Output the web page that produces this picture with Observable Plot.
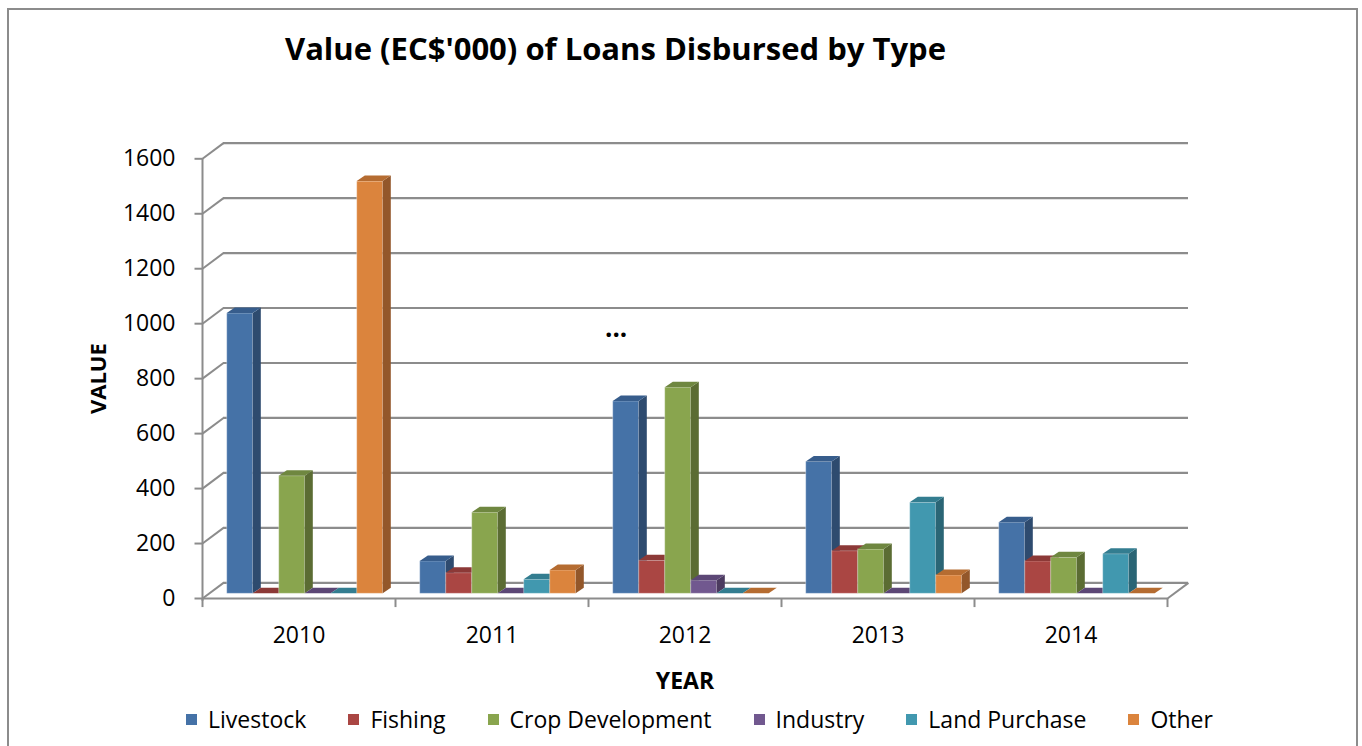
<!DOCTYPE html>
<html>
<head>
<meta charset="utf-8">
<script src="https://cdn.jsdelivr.net/npm/d3@7"></script>
<script src="https://cdn.jsdelivr.net/npm/@observablehq/plot@0.6"></script>
<style>
  body { margin: 0; background: #fff; font-family: "Open Sans", sans-serif; }
  #wrap { position: relative; width: 1362px; height: 746px; overflow: hidden; background: #fff; }
  #frame { position: absolute; left: 7px; top: 8px; width: 1351px; height: 800px; border: 2px solid #8c8c8c; box-sizing: border-box; }
  #title { position: absolute; left: 0; top: 27px; width: 1231px; text-align: center; font-weight: 700; font-size: 31px; line-height: 42px; color: #000; }
  #dots { position: absolute; left: 605px; top: 310px; font-weight: 700; font-size: 26px; line-height: 34px; color: #000; }
  #legend { position: absolute; left: 0; top: 700px; width: 1399px; display: flex; justify-content: center; gap: 42px; font-size: 23px; line-height: 38px; color: #000; }
  .item { display: flex; align-items: center; }
  .sw { width: 11px; height: 11px; margin-right: 11px; }
  #chart { position: absolute; left: 0; top: 0; }
</style>
</head>
<body>
<div id="wrap">
  <div id="frame"></div>
  <div id="chart"></div>
  <div id="title"></div>
  <div id="dots">...</div>
  <div id="legend"></div>
</div>
<script>
// ---- data ----
const titleText = "Value (EC$'000) of Loans Disbursed by Type";
const years = ["2010", "2011", "2012", "2013", "2014"];
const types = ["Livestock", "Fishing", "Crop Development", "Industry", "Land Purchase", "Other"];
const livestock    = [1020, 118, 700, 480, 259];
const fishing      = [0,    75,  120, 155, 118];
const cropDev      = [428,  295, 750, 161, 131];
const industry     = [0,    0,   48,  0,   0];
const landPurchase = [0,    51,  0,   331, 144];
const other        = [1500, 85,  0,   67,  0];
const yTicks = [0, 200, 400, 600, 800, 1000, 1200, 1400, 1600];
const xTitle = "YEAR";
const yTitle = "VALUE";

const series = [livestock, fishing, cropDev, industry, landPurchase, other];
const frontColors = ["#4572A7", "#AA4643", "#89A54E", "#71588F", "#4198AF", "#DB843D"];
const sideColors  = ["#2E4B6F", "#7A302E", "#5B6C33", "#4B3A5F", "#2A6575", "#93572A"];
const topColors   = ["#375D8C", "#8C3937", "#6F8740", "#5C4776", "#337D90", "#B56C31"];

// ---- 3D geometry (in data units) ----
const backDx = 0.1088, backDy = 57;     // back wall offset
const barOff = 0.128, barW = 0.1347;     // bar placement inside a year group
const baseDy = 17;                       // bar base plane
const depDx = 0.042, depDy = 20;         // bar depth
const tickLen = 8 / 193, catTick = -33;

document.getElementById("title").textContent = titleText;

const grid = "#8c8c8c";
const marks = [
  Plot.ruleY(yTicks, {y: d => d + backDy, x1: () => backDx, x2: () => 5 + backDx, stroke: grid, strokeWidth: 2.2}),
  Plot.link(yTicks, {x1: () => 0, y1: d => d, x2: () => backDx, y2: d => d + backDy, stroke: grid, strokeWidth: 2}),
  Plot.link(yTicks, {x1: () => -tickLen, y1: d => d, x2: () => 0, y2: d => d, stroke: grid, strokeWidth: 2}),
  Plot.ruleX([0], {x: d => d, y1: () => catTick * 0.3, y2: () => 1600, stroke: grid, strokeWidth: 2}),
  Plot.ruleY([0], {y: d => d, x1: () => 0, x2: () => years.length, stroke: grid, strokeWidth: 2.2}),
  Plot.link([0], {x1: () => years.length, y1: () => 0, x2: () => years.length + backDx, y2: () => backDy, stroke: grid, strokeWidth: 2}),
  Plot.ruleX(d3.range(years.length + 1), {x: d => d, y1: () => 0, y2: () => catTick, stroke: grid, strokeWidth: 2}),
  Plot.text(years, {x: (d, i) => i + 0.5, y: () => 0, dy: 37, text: d => d, fill: "#000"}),
  Plot.text([xTitle], {x: () => years.length / 2, y: () => 0, dy: 83, text: d => d, fontWeight: "bold", fontSize: 23, fill: "#000"}),
  Plot.text([yTitle], {x: () => 0, y: () => 800, dx: -104, rotate: -90, text: d => d, fontWeight: "bold", fontSize: 22, fill: "#000"})
];

types.forEach((type, t) => {
  const rows = years.map((yr, g) => {
    const v = series[t][g];
    const x1 = g + barOff + t * barW;
    return {id: yr + type, v, x1, x2: x1 + barW, b: baseDy, top: baseDy + v};
  });
  const sidePts = rows.flatMap(r => [
    {id: r.id, x: r.x2, y1: r.b, y2: r.top},
    {id: r.id, x: r.x2 + depDx, y1: r.b + depDy, y2: r.top + depDy}
  ]);
  const topPts = rows.flatMap(r => [
    {id: r.id, x: r.x1, y1: r.top, y2: r.top},
    {id: r.id, x: r.x1 + depDx, y1: r.top, y2: r.top + depDy},
    {id: r.id, x: r.x2, y1: r.top, y2: r.top + depDy},
    {id: r.id, x: r.x2 + depDx, y1: r.top + depDy, y2: r.top + depDy}
  ]);
  marks.push(
    Plot.rect(rows.filter(r => r.v > 0), {x1: "x1", x2: "x2", y1: "b", y2: "top", fill: frontColors[t], stroke: "#ffffff", strokeOpacity: 0.35, strokeWidth: 1}),
    Plot.areaY(sidePts.filter((p, i) => rows[Math.floor(i / 2)].v > 0), {x: "x", y1: "y1", y2: "y2", z: "id", fill: sideColors[t], curve: "linear"}),
    Plot.areaY(topPts, {x: "x", y1: "y1", y2: "y2", z: "id", fill: topColors[t], curve: "linear"})
  );
});

const chart = Plot.plot({
  width: 1362,
  height: 746,
  marginLeft: 202,
  marginRight: 195,
  marginTop: 158.3,
  marginBottom: 148,
  x: {domain: [0, years.length], axis: null},
  y: {domain: [0, 1600], ticks: yTicks, tickSize: 0, tickPadding: 27, tickFormat: d => String(d), label: null},
  style: {fontFamily: "Open Sans", fontSize: "23px", color: "#000", background: "transparent", overflow: "visible"},
  marks
});
document.getElementById("chart").appendChild(chart);

const legend = document.getElementById("legend");
types.forEach((type, t) => {
  const item = document.createElement("div");
  item.className = "item";
  const sw = document.createElement("span");
  sw.className = "sw";
  sw.style.background = frontColors[t];
  const label = document.createElement("span");
  label.textContent = type;
  item.appendChild(sw);
  item.appendChild(label);
  legend.appendChild(item);
});
</script>
</body>
</html>
